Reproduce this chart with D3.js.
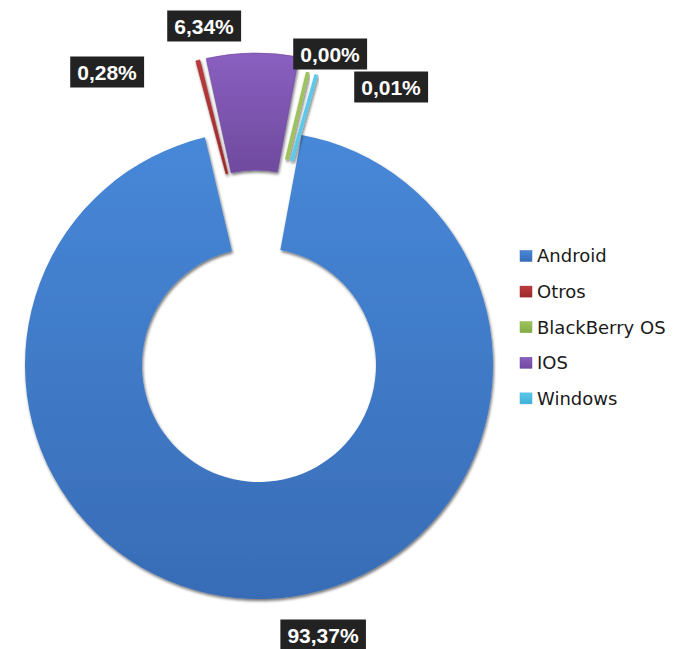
<!DOCTYPE html>
<html><head><meta charset="utf-8">
<script src="https://cdn.jsdelivr.net/npm/d3@7/dist/d3.min.js"></script>
<style>html,body{margin:0;padding:0;background:#fff;}svg{display:block;}</style>
</head><body>
<script>
// Data (visual order around the ring, clockwise)
const categories = ["Android", "Otros", "IOS", "BlackBerry OS", "Windows"];
const values = [93.37, 0.28, 6.34, 0.00, 0.01];
const labels = ["93,37%", "0,28%", "6,34%", "0,00%", "0,01%"];
// Legend order
const legendOrder = ["Android", "Otros", "BlackBerry OS", "IOS", "Windows"];
const colors = {
  "Android": ["#4788d8", "#386cb6"],
  "Otros": ["#c0393b", "#9c2a2c"],
  "BlackBerry OS": ["#9cc45a", "#84ab44"],
  "IOS": ["#8a5fc0", "#6f4a9e"],
  "Windows": ["#5cc8ea", "#3fb0d6"]
};

const W = 683, H = 649;
const cx = 259, cy = 365, R = 234, r0 = 117;
const deg = Math.PI / 180;

const svg = d3.select("body").append("svg").attr("width", W).attr("height", H);
const defs = svg.append("defs");
categories.forEach((c, i) => {
  const g = defs.append("linearGradient").attr("id", "g" + i)
    .attr("x1", 0).attr("y1", 0).attr("x2", 0).attr("y2", 1);
  g.append("stop").attr("offset", "0%").attr("stop-color", colors[c][0]);
  g.append("stop").attr("offset", "100%").attr("stop-color", colors[c][1]);
});
const f = defs.append("filter").attr("id", "sh").attr("x", "-10%").attr("y", "-10%").attr("width", "120%").attr("height", "120%");
f.append("feGaussianBlur").attr("in", "SourceAlpha").attr("stdDeviation", 1.6).attr("result", "b");
f.append("feOffset").attr("in", "b").attr("dx", 1).attr("dy", 2).attr("result", "o");
f.append("feComponentTransfer").attr("in", "o").attr("result", "o2")
  .append("feFuncA").attr("type", "linear").attr("slope", 0.55);
const m = f.append("feMerge");
m.append("feMergeNode").attr("in", "o2");
m.append("feMergeNode").attr("in", "SourceGraphic");

const pie = d3.pie().sort(null).value(d => d)
  .startAngle(10.5 * deg).endAngle(10.5 * deg + 2 * Math.PI);
const arcsData = pie(values);
const arc = d3.arc().innerRadius(r0).outerRadius(R);

// Android (not exploded)
svg.append("path")
  .attr("transform", `translate(${cx},${cy})`)
  .attr("d", arc(arcsData[0]))
  .attr("fill", "url(#g0)")
  .attr("filter", "url(#sh)");

// Exploded group of small slices
const explodeAngle = -2.2 * deg, explodeDist = 78;
const [ex, ey] = d3.pointRadial(explodeAngle, explodeDist);
const grp = svg.append("g").attr("transform", `translate(${cx + ex},${cy + ey})`);
const seps = [0, 0, 1.6 * deg, 3.0 * deg, 2.3 * deg]; // visual gap before each exploded slice
let a = -14.9 * deg;
const groupAngles = [];
for (let i = 1; i < categories.length; i++) {
  a += seps[i];
  const span = arcsData[i].endAngle - arcsData[i].startAngle;
  groupAngles[i] = { s: a, e: a + span };
  a += span;
}
for (let i = 1; i < categories.length; i++) {
  const ga = groupAngles[i];
  const span = ga.e - ga.s;
  if (span > 0.5 * deg) {
    grp.append("path")
      .attr("d", arc({ startAngle: ga.s, endAngle: ga.e }))
      .attr("fill", `url(#g${i})`)
      .attr("stroke", colors[categories[i]][1]).attr("stroke-width", 0.6)
      .attr("filter", "url(#sh)");
  } else if (span > 0.05 * deg) {
    const mid = (ga.s + ga.e) / 2;
    const p1 = d3.pointRadial(mid, r0), p2 = d3.pointRadial(mid, R);
    grp.append("line").attr("x1", p1[0]).attr("y1", p1[1]).attr("x2", p2[0]).attr("y2", p2[1])
      .attr("stroke", colors[categories[i]][1]).attr("stroke-width", 3.2)
      .attr("filter", "url(#sh)");
  }
}
// near-zero slices drawn as short strokes
for (let i = 1; i < categories.length; i++) {
  const ga = groupAngles[i];
  const span = ga.e - ga.s;
  if (span <= 0.05 * deg) {
    const mid = (ga.s + ga.e) / 2;
    const p1 = d3.pointRadial(mid, r0 + 14), p2 = d3.pointRadial(mid, R - 13);
    grp.append("line").attr("x1", p1[0]).attr("y1", p1[1]).attr("x2", p2[0]).attr("y2", p2[1])
      .attr("stroke", colors[categories[i]][0]).attr("stroke-width", 3.6)
      .attr("filter", "url(#sh)");
  }
}

// Data labels
const labelPos = {
  "Android": [323, 635],
  "Otros": [107, 72],
  "IOS": [204, 26],
  "BlackBerry OS": [330, 54],
  "Windows": [391, 87]
};
categories.forEach((c, i) => {
  const [lx, ly] = labelPos[c];
  const g = svg.append("g").attr("transform", `translate(${lx},${ly})`);
  const t = g.append("text").text(labels[i])
    .attr("text-anchor", "middle").attr("dy", "0.36em")
    .attr("font-family", "Liberation Sans, Arial, sans-serif")
    .attr("font-weight", "bold").attr("font-size", 21).attr("fill", "#fff");
  const bb = t.node().getBBox();
  g.insert("rect", "text")
    .attr("x", bb.x - 7).attr("y", -15.5).attr("width", bb.width + 14).attr("height", 31)
    .attr("fill", "#222");
});

// Legend
const ly0 = 256, lstep = 35.6;
legendOrder.forEach((c, i) => {
  const idx = categories.indexOf(c);
  const g = svg.append("g").attr("transform", `translate(520,${ly0 + i * lstep})`);
  g.append("rect").attr("x", 0).attr("y", -5.5).attr("width", 12).attr("height", 11)
    .attr("fill", `url(#g${idx})`).attr("stroke", colors[c][1]).attr("stroke-width", 0.5);
  g.append("text").text(c).attr("x", 17).attr("dy", "0.36em")
    .attr("font-family", "DejaVu Sans, sans-serif").attr("font-size", 18).attr("fill", "#1a1a1a");
});
</script>
</body></html>
